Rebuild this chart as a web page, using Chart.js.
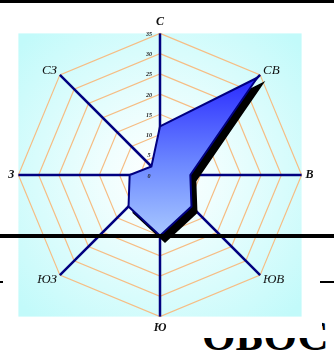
<!DOCTYPE html>
<html><head><meta charset="utf-8">
<script src="https://cdn.jsdelivr.net/npm/chart.js@4/dist/chart.umd.min.js"></script>
<style>
html,body{margin:0;padding:0;background:#fff;overflow:hidden}
#wrap{position:relative;width:334px;height:359px;overflow:hidden;background:#fff}
#bgtext{position:absolute;left:202px;top:314px;width:140px;height:50px;font:bold 43px "Liberation Serif",serif;line-height:44px;white-space:nowrap;color:#000;
  clip-path:polygon(0px 24px,120px 24px,120px 0px,140px 0px,140px 50px,0px 50px)}
#cv{position:absolute;left:0;top:0}
.ln{position:absolute;background:#000}
</style></head><body>
<div id="wrap">
<div id="bgtext">ОБОС</div>
<canvas id="cv" width="334" height="359"></canvas>
<div class="ln" style="left:0;top:0;width:334px;height:3px"></div>
<div class="ln" style="left:0;top:234px;width:334px;height:4px"></div>
<div class="ln" style="left:0;top:281px;width:3px;height:2px"></div>
<div class="ln" style="left:320px;top:281px;width:14px;height:2px"></div>
</div>
<script>
const directions = ['С', 'СВ', 'В', 'ЮВ', 'Ю', 'ЮЗ', 'З', 'СЗ'];
const windValues = [12, 34, 7.5, 11, 15, 11, 7.5, 3];
const tickValues = [0, 5, 10, 15, 20, 25, 30, 35];
const tickLabels = ['0', '5', '10', '15', '20', '25', '30', '35'];

const serif = '"Liberation Serif", "DejaVu Serif", serif';
function labelFont(c) {
  const cardinal = c.index % 2 === 0;
  return cardinal
    ? {family: serif, size: 12, style: 'italic', weight: 'bold', lineHeight: 1.2}
    : {family: serif, size: 13, style: 'italic', weight: 'normal', lineHeight: 0.3};
}

const bgPlugin = {
  id: 'bgSquare',
  beforeDraw(chart) {
    const s = chart.scales.r, ctx = chart.ctx, R = s.drawingArea;
    const g = ctx.createRadialGradient(s.xCenter, s.yCenter, 0, s.xCenter, s.yCenter, R * 1.35);
    g.addColorStop(0, '#ffffff');
    g.addColorStop(0.3, '#effefe');
    g.addColorStop(1, '#c2fafa');
    ctx.save();
    ctx.fillStyle = g;
    ctx.fillRect(s.xCenter - R, s.yCenter - R, 2 * R, 2 * R);
    ctx.restore();
  }
};

// shifts the black copy of the polygon so it reads as a drop shadow
const shadowPlugin = {
  id: 'shadowShift',
  beforeDatasetDraw(chart, args) {
    if (args.index === 1) { chart.ctx.save(); chart.ctx.translate(5, 6); }
  },
  afterDatasetDraw(chart, args) {
    if (args.index === 1) chart.ctx.restore();
  }
};
// register before the filler so the fill is shifted too
const fillerPlugin = Chart.registry.getPlugin('filler');
Chart.unregister(fillerPlugin);
Chart.register(shadowPlugin);
Chart.register(fillerPlugin);

const tickPlugin = {
  id: 'tickText',
  afterDraw(chart) {
    const s = chart.scales.r, ctx = chart.ctx;
    ctx.save();
    ctx.font = 'italic bold 6px ' + serif;
    ctx.fillStyle = '#222';
    ctx.textAlign = 'center';
    ctx.textBaseline = 'middle';
    tickValues.forEach((v, i) => {
      const p = s.getPointPositionForValue(0, v);
      ctx.fillText(tickLabels[i], p.x - 11, p.y + 1);
    });
    ctx.restore();
  }
};

function fillGradient(c) {
  const ch = c.chart, s = ch.scales.r;
  if (!s || !s.drawingArea) return '#6f8aff';
  const g = ch.ctx.createLinearGradient(0, s.yCenter - s.drawingArea * 0.7, 0, s.yCenter + s.drawingArea * 0.43);
  g.addColorStop(0, '#2828ff');
  g.addColorStop(0.55, '#6c88ff');
  g.addColorStop(1, '#a8c8ff');
  return g;
}

new Chart(document.getElementById('cv'), {
  type: 'radar',
  data: {
    labels: directions,
    datasets: [
      {data: windValues, backgroundColor: fillGradient, borderColor: '#000080', borderWidth: 2, pointRadius: 0, fill: true},
      {data: windValues, backgroundColor: '#000000', borderColor: '#000000', borderWidth: 2, pointRadius: 0, fill: true}
    ]
  },
  options: {
    responsive: false,
    animation: false,
    layout: {padding: {left: 1, right: 13, top: 15, bottom: 24}},
    plugins: {legend: {display: false}, tooltip: {enabled: false}},
    elements: {line: {tension: 0}},
    scales: {
      r: {
        min: tickValues[0], max: tickValues[tickValues.length - 1],
        ticks: {display: false, stepSize: tickValues[1] - tickValues[0]},
        grid: {color: '#f6bd84', lineWidth: 1.2},
        angleLines: {display: false},
        pointLabels: {padding: 4, color: '#111', font: labelFont}
      },
      r2: {
        type: 'radialLinear', z: 1,
        min: tickValues[0], max: tickValues[tickValues.length - 1],
        ticks: {display: false, stepSize: tickValues[1] - tickValues[0]},
        grid: {display: false},
        angleLines: {color: '#000080', lineWidth: 2.5},
        pointLabels: {padding: 4, color: 'rgba(0,0,0,0)', font: labelFont}
      }
    }
  },
  plugins: [bgPlugin, tickPlugin]
});
</script>
</body></html>
